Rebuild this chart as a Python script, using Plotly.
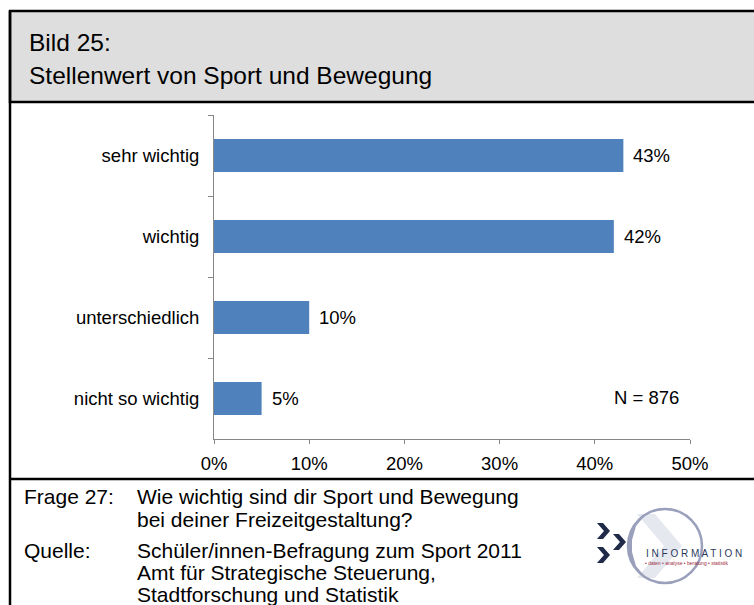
import plotly.graph_objects as go

# ---- data ----
categories = ["sehr wichtig", "wichtig", "unterschiedlich", "nicht so wichtig"]
values = [0.43, 0.42, 0.10, 0.05]
x_ticks = [0, 0.1, 0.2, 0.3, 0.4, 0.5]
x_tick_labels = ["0%", "10%", "20%", "30%", "40%", "50%"]
title_lines = ["Bild 25:", "Stellenwert von Sport und Bewegung"]
n_label = "N = 876"
footer_rows = [
    ("Frage 27:", "Wie wichtig sind dir Sport und Bewegung"),
    ("", "bei deiner Freizeitgestaltung?"),
    ("Quelle:", "Schüler/innen-Befragung zum Sport 2011"),
    ("", "Amt für Strategische Steuerung,"),
    ("", "Stadtforschung und Statistik"),
]

# ---- layout geometry (pixels) ----
FW, FH = 754, 605
L, R, T, B = 214, 690, 115, 439
PW, PH = R - L, B - T
FONT = "Liberation Sans, Arial, sans-serif"
BAR = "#4f81bd"
AX = "#868686"
FS = 18.5


def X(px):
    return (px - L) / PW


def Y(py):
    return (B - py) / PH


fig = go.Figure()
fig.add_trace(go.Bar(
    x=values, y=categories, orientation="h",
    marker=dict(color=BAR, line=dict(width=0)),
    width=0.41, hoverinfo="skip",
))

annotations = []
# value labels from data
for c, v in zip(categories, values):
    annotations.append(dict(
        x=v, y=c, xref="x", yref="y", text=f"{round(v*100)}%",
        showarrow=False, xanchor="left", yanchor="middle", xshift=8,
        font=dict(size=FS, color="#000000", family=FONT)))

annotations.append(dict(
    x=X(681), y=Y(397), xref="paper", yref="paper", text=n_label,
    showarrow=False, xanchor="right", yanchor="middle",
    font=dict(size=FS, color="#000000", family=FONT)))

# title
for line, py in zip(title_lines, [43, 76]):
    annotations.append(dict(
        x=X(27), y=Y(py), xref="paper", yref="paper", text=line,
        showarrow=False, xanchor="left", yanchor="middle",
        font=dict(size=24.5, color="#000000", family=FONT)))

# footer
for (lab, txt), py in zip(footer_rows, [497, 519, 550, 572, 594]):
    if lab:
        annotations.append(dict(
            x=X(22), y=Y(py), xref="paper", yref="paper", text=lab,
            showarrow=False, xanchor="left", yanchor="middle",
            font=dict(size=21, color="#000000", family=FONT)))
    annotations.append(dict(
        x=X(135), y=Y(py), xref="paper", yref="paper", text=txt,
        showarrow=False, xanchor="left", yanchor="middle",
        font=dict(size=21, color="#000000", family=FONT)))

# logo text
annotations.append(dict(
    x=X(644), y=Y(553), xref="paper", yref="paper",
    text="I N F O R M A T I O N", showarrow=False, xanchor="left",
    yanchor="middle", font=dict(size=10, color="#2b3a5c", family=FONT)))
annotations.append(dict(
    x=X(643), y=Y(563), xref="paper", yref="paper",
    text="• daten • analyse • beratung • statistik", showarrow=False,
    xanchor="left", yanchor="middle",
    font=dict(size=5, color="#9b2c3c", family=FONT)))

shapes = []
# header box
shapes.append(dict(type="rect", xref="paper", yref="paper",
                   x0=X(10), x1=X(770), y0=Y(11), y1=Y(102),
                   fillcolor="#dedede", line=dict(color="#000000", width=2.5),
                   layer="below"))
# left border
shapes.append(dict(type="line", xref="paper", yref="paper",
                   x0=X(10), x1=X(10), y0=Y(11), y1=Y(620),
                   line=dict(color="#000000", width=2.5)))
# footer separator
shapes.append(dict(type="line", xref="paper", yref="paper",
                   x0=X(10), x1=X(770), y0=Y(479), y1=Y(479),
                   line=dict(color="#000000", width=2.5)))


def path_px(pts):
    return "M " + " L ".join(f"{X(a):.5f},{Y(b):.5f}" for a, b in pts) + " Z"


# logo: pale chevron
shapes.append(dict(type="path", xref="paper", yref="paper",
                   path=path_px([(637, 514), (655, 514), (682, 546), (655, 578), (637, 578), (664, 546)]),
                   fillcolor="#e6e8f0", line=dict(width=0)))
# logo ring
shapes.append(dict(type="circle", xref="paper", yref="paper",
                   x0=X(628), x1=X(702), y0=Y(509), y1=Y(583),
                   line=dict(color="#9aa0bb", width=2.5)))
shapes.append(dict(type="path", xref="paper", yref="paper",
                   path=path_px([(640, 518), (630, 532), (627, 546), (630, 560), (640, 574),
                                 (646, 578), (636, 566), (632, 552), (632, 540), (636, 526), (646, 514)]),
                   fillcolor="#9aa0bb", line=dict(width=0)))
# logo dark chevrons
for cx, cy in [(597, 523), (613, 534), (597, 547)]:
    shapes.append(dict(type="path", xref="paper", yref="paper",
                       path=path_px([(cx, cy), (cx + 6, cy), (cx + 13, cy + 8), (cx + 6, cy + 16),
                                     (cx, cy + 16), (cx + 7, cy + 8)]),
                       fillcolor="#1f2b48", line=dict(width=0)))

fig.update_layout(
    width=FW, height=FH,
    margin=dict(l=L, r=FW - R, t=T, b=FH - B, autoexpand=False),
    paper_bgcolor="#ffffff", plot_bgcolor="#ffffff",
    showlegend=False,
    font=dict(family=FONT, size=FS, color="#000000"),
    xaxis=dict(range=[0, 0.5], tickvals=x_ticks, ticktext=x_tick_labels,
               showgrid=False, zeroline=False, showline=True, linecolor=AX,
               linewidth=1, ticks="outside", ticklen=4, tickcolor=AX,
               tickfont=dict(size=FS, color="#000000", family=FONT),
               ticklabelstandoff=4, fixedrange=True),
    yaxis=dict(categoryorder="array", categoryarray=categories,
               range=[3.5, -0.5], tickson="boundaries",
               showgrid=False, zeroline=False, showline=True, linecolor=AX,
               linewidth=1, ticks="outside", ticklen=5, tickcolor=AX,
               tickfont=dict(size=FS, color="#000000", family=FONT),
               ticklabelstandoff=10, fixedrange=True),
    annotations=annotations,
    shapes=shapes,
    bargap=0.59,
)

fig.write_html(
    "out.html",
    config={"displayModeBar": False},
    post_script="document.body.style.margin='0';document.body.style.overflow='hidden';",
)
